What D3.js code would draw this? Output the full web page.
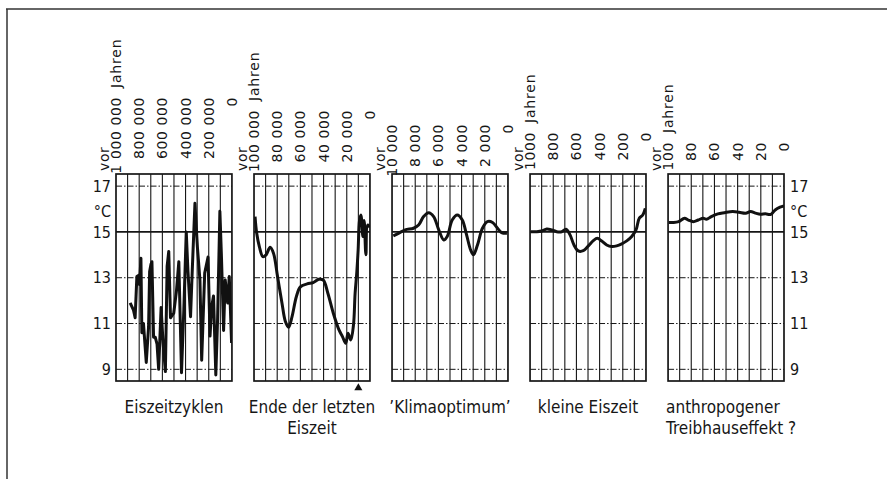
<!DOCTYPE html>
<html>
<head>
<meta charset="utf-8">
<script src="https://cdn.jsdelivr.net/npm/d3@7"></script>
<style>
  body { margin: 0; background: #fff; }
  text { fill: #161616; }
</style>
</head>
<body>
<svg id="chart" width="887" height="479"></svg>
<script>
// Zeitspannen der fuenf Fenster (Jahre vor heute)
var spanMax = [1000000, 100000, 10000, 1000, 100];

var labels1 = ["1 000 000", "800 000", "600 000", "400 000", "200 000", "0"];
var labels2 = ["100 000", "80 000", "60 000", "40 000", "20 000", "0"];
var labels3 = ["10 000", "8 000", "6 000", "4 000", "2 000", "0"];
var labels4 = ["1000", "800", "600", "400", "200", "0"];
var labels5 = ["100", "80", "60", "40", "20", "0"];

var tempTicks = [9, 11, 13, 15, 17];

var captions = [
    ["Eiszeitzyklen"],
    ["Ende der letzten", "Eiszeit"],
    ["\u2019Klimaoptimum\u2019"],
    ["kleine Eiszeit"],
    ["anthropogener", "Treibhauseffekt ?"]
];

// Eiszeitzyklen
var years1 = [878000, 850000, 835000, 820000, 806000, 797000, 785000, 777000, 763000, 739000,
    719000, 710000, 698000, 690000, 676000, 661000, 646000, 632000, 611000, 594000,
    574000, 559000, 545000, 530000, 502000, 478000, 458000, 435000, 415000, 394000,
    380000, 357000, 342000, 319000, 298000, 276000, 261000, 235000, 206000, 189000,
    174000, 159000, 139000, 124000, 104000, 90000, 72000, 58000, 37000, 23000, 3000];
var temp1 = [11.9, 11.6, 11.25, 13.05, 13.1, 12.7, 13.85, 10.6, 11.0, 9.3,
    10.85, 13.27, 13.6, 13.7, 10.4, 10.4, 10.1, 9.0, 11.7, 10.15,
    8.9, 13.5, 14.15, 11.25, 11.45, 12.45, 13.7, 8.85, 11.6, 15.0,
    13.35, 11.3, 13.35, 16.25, 14.35, 12.9, 9.4, 13.2, 13.9, 10.45,
    11.75, 12.2, 8.75, 11.15, 15.9, 13.85, 10.7, 12.9, 11.9, 13.05, 10.15];

// Ende der letzten Eiszeit
var years2 = [99100, 97700, 95400, 92400, 89600, 86100, 83200, 79700, 75900, 73000,
    70200, 67200, 63500, 60000, 54200, 49000, 44100, 40300, 36300, 31600,
    26700, 23700, 20900, 18900, 16500, 14200, 12800, 11300, 10200, 9000,
    7800, 6100, 5000, 3500, 2000, 0];
var temp2 = [15.67, 14.95, 14.36, 13.92, 14.0, 14.33, 14.07, 13.05, 11.9, 11.1,
    10.84, 11.3, 12.17, 12.6, 12.73, 12.79, 12.93, 12.9, 12.32, 11.45,
    10.72, 10.43, 10.14, 10.58, 10.28, 10.94, 12.32, 13.27, 14.2, 15.5,
    15.74, 14.8, 15.5, 14.0, 15.3, 15.2];

// Klimaoptimum
var years3 = [9890, 9450, 8870, 8150, 7710, 7280, 6840, 6410, 5970, 5540,
    5240, 4810, 4370, 3940, 3570, 3220, 2980, 2630, 2200, 1770,
    1330, 900, 550, 90];
var temp3 = [14.83, 14.94, 15.09, 15.16, 15.3, 15.67, 15.84, 15.67, 15.09, 14.65,
    14.8, 15.52, 15.74, 15.52, 14.87, 14.21, 14.0, 14.43, 15.16, 15.45,
    15.41, 15.16, 14.97, 14.94];

// kleine Eiszeit
var years4 = [994, 942, 899, 856, 813, 770, 727, 690, 655, 621,
    584, 541, 497, 454, 420, 382, 339, 296, 253, 209,
    166, 123, 86, 58, 28, 6];
var temp4 = [15.01, 15.01, 15.04, 15.13, 15.09, 15.01, 15.01, 15.12, 14.87, 14.43,
    14.17, 14.18, 14.39, 14.62, 14.72, 14.6, 14.43, 14.36, 14.39, 14.48,
    14.61, 14.8, 15.09, 15.6, 15.74, 16.03];

// anthropogener Treibhauseffekt
var years5 = [99.4, 95.2, 90.9, 85.8, 82.5, 78.2, 74.0, 69.7, 66.9, 62.7,
    57.0, 51.4, 44.3, 38.7, 33.1, 28.8, 24.6, 20.3, 16.1, 11.3,
    7.6, 3.4, 0];
var temp5 = [15.41, 15.41, 15.45, 15.6, 15.52, 15.45, 15.52, 15.6, 15.55, 15.67,
    15.79, 15.84, 15.89, 15.86, 15.82, 15.89, 15.82, 15.77, 15.79, 15.77,
    15.96, 16.08, 16.14];

var allYears = [years1, years2, years3, years4, years5];
var allTemps = [temp1, temp2, temp3, temp4, temp5];
var allLabels = [labels1, labels2, labels3, labels4, labels5];

// Layout
var labelTop = [97, 110, 124, 132, 142];
var narrow = "'DejaVu Sans Condensed', 'DejaVu Sans', sans-serif";
var wide = "'DejaVu Sans', sans-serif";
var ink = "#161616";

var svg = d3.select("#chart");

// Rahmen der Vorlage
svg.append("line")
    .attr("x1", 6).attr("x2", 887).attr("y1", 9).attr("y2", 9)
    .attr("stroke", "#333").attr("stroke-width", 1.5);
svg.append("line")
    .attr("x1", 7).attr("x2", 7).attr("y1", 9).attr("y2", 479)
    .attr("stroke", "#333").attr("stroke-width", 1.5);

var band = d3.scaleBand()
    .domain(d3.range(5))
    .range([116, 784])
    .paddingInner(0.16)
    .paddingOuter(0);

var y = d3.scaleLinear()
    .domain([8.49, 17.53])
    .range([381, 174]);

var top_ = y.range()[1], bottom = y.range()[0];

for (var i = 0; i < 5; i++) {
    var x0 = band(i), w = band.bandwidth();
    var x = d3.scaleLinear().domain([spanMax[i], 0]).range([x0, x0 + w]);
    var g = svg.append("g");

    // senkrechte Gitterlinien
    g.selectAll(".v")
        .data(d3.range(1, 10).map(function(k) { return spanMax[i] * k / 10; }))
        .enter()
        .append("line")
        .attr("x1", function(d) { return x(d); })
        .attr("x2", function(d) { return x(d); })
        .attr("y1", top_)
        .attr("y2", bottom)
        .attr("stroke", ink)
        .attr("stroke-width", 1.1);

    // waagrechte Linien
    g.selectAll(".h")
        .data(tempTicks)
        .enter()
        .append("line")
        .attr("x1", x0)
        .attr("x2", x0 + w)
        .attr("y1", function(d) { return y(d); })
        .attr("y2", function(d) { return y(d); })
        .attr("stroke", ink)
        .attr("stroke-width", function(d) { return d === 15 ? 1.7 : 1; })
        .attr("stroke-dasharray", function(d) { return d === 15 ? null : "6 2 1.5 2"; });

    // Kurve
    svg.append("clipPath").attr("id", "clip" + i)
        .append("rect")
        .attr("x", x0).attr("y", top_).attr("width", w).attr("height", bottom - top_);

    var pts = allYears[i].map(function(d, k) { return [d, allTemps[i][k]]; });
    var line = d3.line()
        .x(function(d) { return x(d[0]); })
        .y(function(d) { return y(d[1]); })
        .curve(i === 0 ? d3.curveLinear : d3.curveCatmullRom);

    g.append("path")
        .datum(pts)
        .attr("clip-path", "url(#clip" + i + ")")
        .attr("fill", "none")
        .attr("stroke", "#111")
        .attr("stroke-width", 3)
        .attr("stroke-linejoin", "round")
        .attr("d", line);

    // Rahmen
    g.append("rect")
        .attr("x", x0).attr("y", top_)
        .attr("width", w).attr("height", bottom - top_)
        .attr("fill", "none")
        .attr("stroke", ink)
        .attr("stroke-width", 1.7);

    // Zeitachse oben
    var tickVals = d3.range(6).map(function(k) { return spanMax[i] * (1 - k / 5); });
    g.selectAll(".tl")
        .data(tickVals)
        .enter()
        .append("text")
        .attr("transform", function(d) { return "translate(" + x(d) + "," + labelTop[i] + ") rotate(-90)"; })
        .attr("text-anchor", "end")
        .attr("dy", "0.36em")
        .style("font-family", wide)
        .style("font-size", "14px")
        .style("letter-spacing", "0.6px")
        .text(function(d, k) { return allLabels[i][k]; });

    g.append("text")
        .attr("transform", "translate(" + (x0 - 12) + ",171) rotate(-90)")
        .attr("dy", "0.36em")
        .style("font-family", wide)
        .style("font-size", "14px")
        .style("letter-spacing", "0.6px")
        .text("vor");

    if (i !== 2) {
        g.append("text")
            .attr("transform", "translate(" + x(spanMax[i]) + "," + (labelTop[i] - 9) + ") rotate(-90)")
            .attr("dy", "0.36em")
            .style("font-family", wide)
            .style("font-size", "14px")
            .style("letter-spacing", "0.8px")
            .text("Jahren");
    }

    // Beschriftung unten
    var cap = g.append("text")
        .style("font-family", narrow)
        .style("font-size", "17px")
        .attr("text-anchor", i === 4 ? "start" : "middle");
    cap.selectAll("tspan")
        .data(captions[i])
        .enter()
        .append("tspan")
        .attr("x", i === 4 ? x0 - 2 : x0 + w / 2)
        .attr("y", function(d, k) { return 413 + k * 21; })
        .text(function(d) { return d; });

    if (i === 1) {
        g.append("path")
            .attr("d", d3.symbol().type(d3.symbolTriangle).size(28)())
            .attr("transform", "translate(" + x(10000) + ",388)")
            .attr("fill", "#111");
    }
}

// Temperaturachsen links und rechts
var axL = svg.append("g")
    .attr("transform", "translate(" + band(0) + ",0)")
    .call(d3.axisLeft(y).tickValues(tempTicks).tickSize(0).tickPadding(5).tickFormat(d3.format("d")));
var axR = svg.append("g")
    .attr("transform", "translate(" + (band(4) + band.bandwidth()) + ",0)")
    .call(d3.axisRight(y).tickValues(tempTicks).tickSize(0).tickPadding(6).tickFormat(d3.format("d")));
[axL, axR].forEach(function(ax) {
    ax.select(".domain").remove();
    ax.selectAll("text")
        .style("font-family", narrow)
        .style("font-size", "16px")
        .attr("fill", ink);
});

svg.append("text")
    .attr("x", band(0) - 5).attr("y", y(16) + 3)
    .attr("text-anchor", "end").attr("dy", "0.32em")
    .style("font-family", narrow).style("font-size", "16px")
    .text("\u00b0C");
svg.append("text")
    .attr("x", band(4) + band.bandwidth() + 6).attr("y", y(16) + 3)
    .attr("dy", "0.32em")
    .style("font-family", narrow).style("font-size", "16px")
    .text("\u00b0C");
</script>
</body>
</html>
